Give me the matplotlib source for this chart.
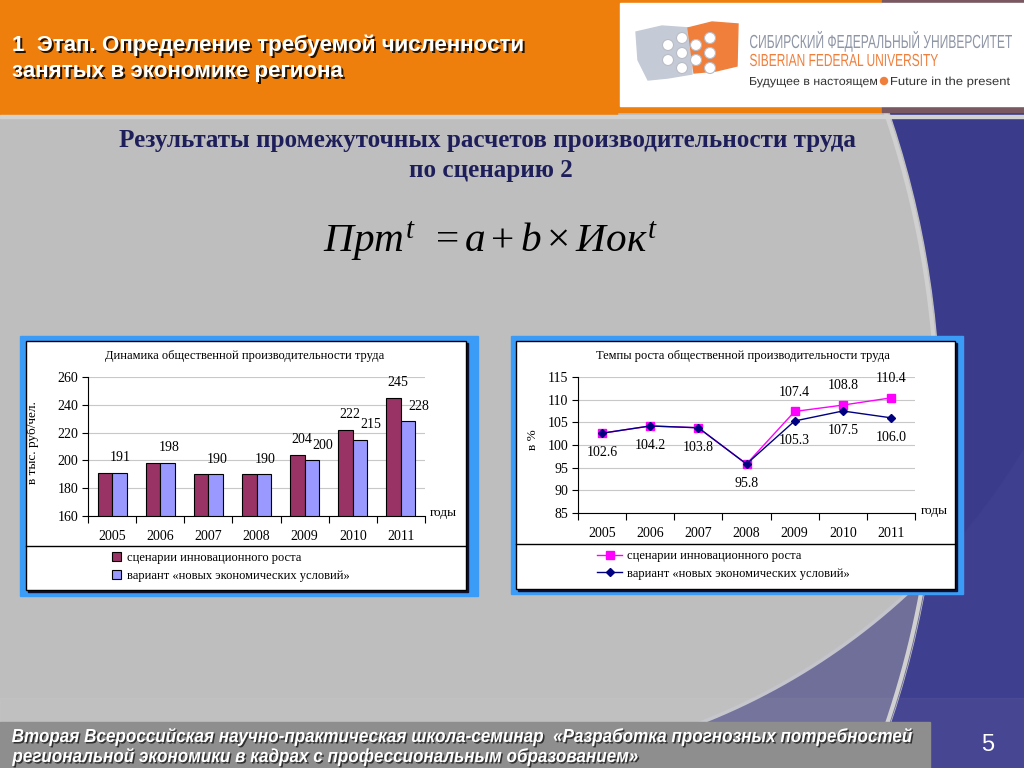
import numpy as np
import matplotlib
matplotlib.use('Agg')
import matplotlib.pyplot as plt
from matplotlib.patches import Rectangle, Circle, Polygon, PathPatch
from matplotlib.textpath import TextPath
from matplotlib.font_manager import FontProperties
from matplotlib.transforms import Affine2D

W, H = 1024, 768

# данные
years = ['2005', '2006', '2007', '2008', '2009', '2010', '2011']
prod_innov = [191, 198, 190, 190, 204, 222, 245]
prod_new = [191, 198, 190, 190, 200, 215, 228]
growth_innov = [102.6, 104.2, 103.8, 95.8, 107.4, 108.8, 110.4]
growth_new = [102.6, 104.2, 103.8, 95.8, 105.3, 107.5, 106.0]
series_names = ['сценарии инновационного роста',
                'вариант «новых экономических условий»']

SERIF = 'Liberation Serif'
SANS = 'Liberation Sans'

plt.rcParams['font.family'] = SERIF
plt.rcParams['mathtext.fontset'] = 'custom'
plt.rcParams['mathtext.it'] = 'Liberation Serif:italic'
plt.rcParams['mathtext.rm'] = 'Liberation Serif'
plt.rcParams['mathtext.default'] = 'it'

fig = plt.figure(figsize=(W / 100, H / 100), dpi=100)
bg = fig.add_axes([0, 0, 1, 1])
bg.set_xlim(0, W)
bg.set_ylim(H, 0)
bg.axis('off')


def ax_rect(x0, y0, x1, y1):
    return [x0 / W, 1 - y1 / H, (x1 - x0) / W, (y1 - y0) / H]


def fit(t, width):
    r = fig.canvas.get_renderer()
    w = t.get_window_extent(r).width
    t.set_fontsize(t.get_fontsize() * width / w)


def path_text(x, base, s, color, cap=None, width=None, scale=None, weight='normal',
              style='normal', z=3):
    # текст как контур, сжатый по ширине (узкого шрифта нет)
    prop = FontProperties(family=SANS, weight=weight, style=style)
    tp = TextPath((0, 0), s, size=100, prop=prop)
    ext = tp.get_extents()
    if scale is None:
        capb = TextPath((0, 0), 'Н', size=100, prop=prop).get_extents()
        scale = (width / ext.width, cap / capb.height)
    sx, sy = scale
    tr = Affine2D().translate(-ext.x0, 0).scale(sx, -sy).translate(x, base) + bg.transData
    bg.add_patch(PathPatch(tp, transform=tr, facecolor=color, lw=0, zorder=z))
    return scale


# фон слайда
bg.add_patch(Rectangle((0, 0), W, H, color='#3B3B8B', zorder=0))
ang = np.radians(np.linspace(30, 92, 200))
c1x, c1y, r1 = 461, 111, 657
arc1 = np.column_stack([c1x + r1 * np.cos(ang), c1y + r1 * np.sin(ang)])
band_pts = np.vstack([arc1, [[400, 820], [1100, 820], [1100, 440]]])
bg.add_patch(Polygon(band_pts, closed=True, color='#3F3F8F', zorder=0.5))
gray_circle = Circle((-11, 420), 951, color='#BEBEBE', zorder=1)
bg.add_patch(gray_circle)
band = Polygon(band_pts, closed=True, color='#6F6F99', zorder=1.5)
bg.add_patch(band)
band.set_clip_path(gray_circle)
ang2 = np.radians(np.linspace(-40, 40, 200))
bg.plot(-11 + 948 * np.cos(ang2), 420 + 948 * np.sin(ang2), color='#D0D0D0', lw=3, zorder=1.6)
hl = bg.plot(arc1[:, 0], arc1[:, 1], color='#C4C4CC', lw=2.5, zorder=1.6)[0]
hl.set_clip_path(gray_circle)

# шапка
bg.add_patch(Rectangle((0, 0), 617, 115, color='#EF7F0C', zorder=2))
bg.add_patch(Rectangle((0, 115), W, 3, color='#D2D2D2', zorder=2))
bg.add_patch(Rectangle((617, 0), 265, 112, color='#EF7F0C', zorder=2))
bg.add_patch(Rectangle((882, 0), W - 882, 112, color='#7A5862', zorder=2))
bg.add_patch(Rectangle((620, 3), W - 620, 103, color='white', zorder=2.1))

for i, line in enumerate(['1  Этап. Определение требуемой численности',
                          'занятых в экономике региона']):
    y = 45 + 27 * i
    sh = bg.text(14, y + 2, line, color='black', fontsize=15, family=SANS,
                 fontweight='bold', va='center', zorder=3, alpha=0.85)
    t = bg.text(12, y, line, color='white', fontsize=15, family=SANS,
                fontweight='bold', va='center', zorder=3.1)
    if i == 0:
        fit(t, 518)
        fs = t.get_fontsize()
    t.set_fontsize(fs)
    sh.set_fontsize(fs)

# логотип
bg.add_patch(Polygon([[636, 32], [662, 26], [690, 28], [692, 74], [668, 78], [648, 80], [638, 60]],
                     closed=True, color='#C5CBD6', zorder=3))
bg.add_patch(Polygon([[688, 28], [712, 22], [738, 24], [737, 66], [716, 71], [694, 73]],
                     closed=True, color='#F07F3C', zorder=3.1))
for cx, cy in [(668, 45), (668, 60), (682, 38), (682, 53), (682, 68), (696, 45), (696, 60),
               (710, 38), (710, 53), (710, 68)]:
    bg.add_patch(Circle((cx, cy), 5.5, facecolor='white', edgecolor='#B8BCC6', lw=0.8, zorder=3.2))
path_text(750, 48, 'СИБИРСКИЙ ФЕДЕРАЛЬНЫЙ УНИВЕРСИТЕТ', '#8E95A5', cap=13, width=262)
path_text(750, 66, 'SIBERIAN FEDERAL UNIVERSITY', '#F07F3C', cap=12, width=188)
path_text(750, 85, 'Будущее в настоящем', '#333333', cap=8, width=127)
bg.add_patch(Circle((884, 81), 3.5, color='#F07F3C', zorder=3))
path_text(891, 85, 'Future in the present', '#333333', cap=8, width=119)

# заголовок слайда и формула
t = bg.text(487, 141, 'Результаты промежуточных расчетов производительности труда',
            color='#1E1E5A', fontweight='bold', fontsize=17, ha='center', va='center', zorder=3)
fit(t, 741)
bg.text(491, 171, 'по сценарию 2', color='#1E1E5A', fontweight='bold',
        fontsize=t.get_fontsize(), ha='center', va='center', zorder=3)
t = bg.text(323, 242, r'$Прт^{t}\ \,= a + b\times Иок^{t}$', color='black', fontsize=26,
            va='center', zorder=3)
fit(t, 335)

# рамки диаграмм
for (x0, y0, x1, y1), (px0, py0, px1, py1), ly in [((20, 336, 478, 596), (26, 341, 466, 590), 546),
                                                    ((511, 336, 963, 594), (516, 341, 955, 589), 544)]:
    bg.add_patch(Rectangle((x0, y0), x1 - x0, y1 - y0, color='#3B9CF8', zorder=2))
    bg.add_patch(Rectangle((px0 + 2, py0 + 2), px1 - px0, py1 - py0, color='#101030', zorder=2.1))
    bg.add_patch(Rectangle((px0, py0), px1 - px0, py1 - py0, facecolor='white',
                           edgecolor='black', lw=1, zorder=2.2))
    bg.plot([px0, px1], [ly, ly], color='black', lw=1, zorder=2.3)

bg.text(245, 356, 'Динамика общественной производительности труда', fontsize=9,
        ha='center', va='center', zorder=3)
bg.text(743, 356, 'Темпы роста общественной производительности труда', fontsize=9,
        ha='center', va='center', zorder=3)
bg.text(33, 443, 'в тыс. руб/чел.', fontsize=9.5, rotation=90, ha='center', va='center', zorder=3)
bg.text(533, 440, 'в %', fontsize=9.5, rotation=90, ha='center', va='center', zorder=3)
bg.text(430, 513, 'годы', fontsize=9.5, va='center', zorder=3)
bg.text(921, 511, 'годы', fontsize=9.5, va='center', zorder=3)

x = np.arange(len(years))


def style_axis(ax):
    ax.set_facecolor('none')
    ax.set_xlim(-0.5, len(years) - 0.5)
    for s in ['top', 'right']:
        ax.spines[s].set_visible(False)
    for s in ['left', 'bottom']:
        ax.spines[s].set_linewidth(0.8)
    ax.set_xticks(x)
    ax.set_xticklabels(years)
    ax.set_xticks(np.arange(-0.5, len(years)), minor=True)
    ax.tick_params(axis='x', which='major', length=0, pad=10, labelsize=10)
    ax.tick_params(axis='x', which='minor', length=5, direction='out', width=0.8)
    ax.tick_params(axis='y', length=4, direction='out', width=0.8, labelsize=10, pad=3)
    ax.grid(axis='y', color='#C8C8C8', lw=0.8)
    ax.set_axisbelow(True)


# левая диаграмма
ax1 = fig.add_axes(ax_rect(88, 377, 425, 516))
bw = 0.3
b1 = ax1.bar(x - bw / 2, prod_innov, bw, color='#993366', edgecolor='black', lw=0.8,
             label=series_names[0])
b2 = ax1.bar(x + bw / 2, prod_new, bw, color='#9999FF', edgecolor='black', lw=0.8,
             label=series_names[1])
ax1.set_ylim(160, 260)
ax1.set_yticks(range(160, 261, 20))
style_axis(ax1)
for i in range(len(years)):
    if prod_innov[i] != prod_new[i]:
        ax1.annotate(str(prod_innov[i]), (x[i] - bw / 2, prod_innov[i]), xytext=(3, 11),
                     textcoords='offset points', ha='center', va='center', fontsize=10)
        ax1.annotate(str(prod_new[i]), (x[i] + bw / 2, prod_new[i]), xytext=(8, 11),
                     textcoords='offset points', ha='center', va='center', fontsize=10)
    else:
        ax1.annotate(str(prod_new[i]), (x[i] + bw / 2, prod_new[i]), xytext=(1, 11),
                     textcoords='offset points', ha='center', va='center', fontsize=10)
fig.legend(handles=[b1, b2], loc='upper left', bbox_to_anchor=(112 / W, 1 - 552 / H),
           frameon=False, fontsize=9, handlelength=0.7, handleheight=0.7, handletextpad=0.5,
           labelspacing=0.45, borderpad=0, borderaxespad=0)

# правая диаграмма
ax2 = fig.add_axes(ax_rect(578, 377, 915, 513))
l1, = ax2.plot(x, growth_innov, color='#FF00FF', marker='s', ms=6, lw=1, label=series_names[0])
l2, = ax2.plot(x, growth_new, color='#000080', marker='D', ms=4.5, lw=1, label=series_names[1])
ax2.set_ylim(85, 115)
ax2.set_yticks(range(85, 116, 5))
style_axis(ax2)
for i in range(len(years)):
    ax2.annotate(f'{growth_new[i]:.1f}', (x[i], growth_new[i]), xytext=(0, -14),
                 textcoords='offset points', ha='center', va='center', fontsize=10)
    if growth_innov[i] != growth_new[i]:
        ax2.annotate(f'{growth_innov[i]:.1f}', (x[i], growth_innov[i]), xytext=(0, 14),
                     textcoords='offset points', ha='center', va='center', fontsize=10)
fig.legend(handles=[l1, l2], loc='upper left', bbox_to_anchor=(597 / W, 1 - 550 / H),
           frameon=False, fontsize=9, handlelength=2.0, handletextpad=0.4,
           labelspacing=0.45, borderpad=0, borderaxespad=0)

# подвал
bg.add_patch(Rectangle((0, 698), W, 70, color='white', alpha=0.04, zorder=2))
bg.add_patch(Rectangle((0, 722), 930, 46, color='#8E8E8E', zorder=2.1))
footer = ['Вторая Всероссийская научно-практическая школа-семинар  «Разработка прогнозных потребностей',
          'региональной экономики в кадрах с профессиональным образованием»']
sc = path_text(13.5, 743.5, footer[0], '#303030', cap=13, width=900, weight='bold', style='italic')
path_text(12, 742, footer[0], 'white', scale=sc, weight='bold', style='italic', z=3.1)
path_text(13.5, 763.5, footer[1], '#303030', scale=sc, weight='bold', style='italic')
path_text(12, 762, footer[1], 'white', scale=sc, weight='bold', style='italic', z=3.1)
bg.text(988, 745, '5', color='white', family=SANS, fontsize=17, ha='center', va='center', zorder=3)

fig.savefig('out.png', dpi=100)
